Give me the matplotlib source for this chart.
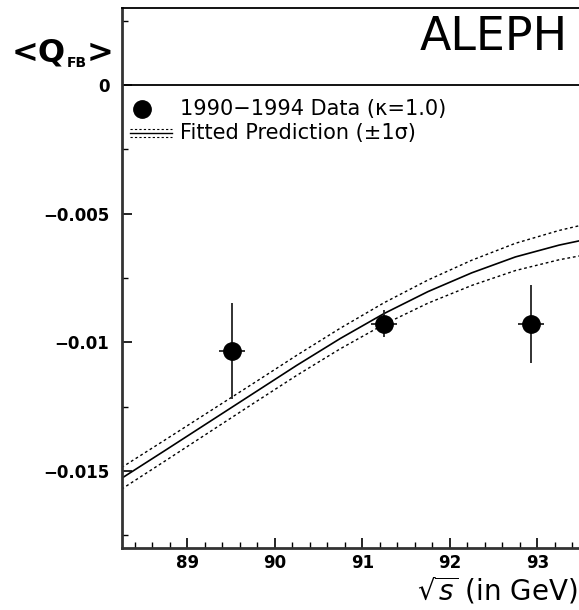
import numpy as np
import matplotlib
matplotlib.use("Agg")
import matplotlib.pyplot as plt
from matplotlib.ticker import FixedLocator, MultipleLocator, FuncFormatter

# ====== DATA ======
data_x = [89.51, 91.25, 92.93]
data_y = [-0.01035, -0.00927, -0.00930]
data_yerr = [0.00187, 0.00052, 0.00152]
data_xerr = [0.15, 0.15, 0.15]

fit_x = [88.25, 88.75, 89.25, 89.75, 90.25, 90.75, 91.25, 91.75, 92.25, 92.75, 93.25, 93.5]
fit_y = [-0.01529, -0.01420, -0.01310, -0.01200, -0.01090, -0.00985, -0.00888,
         -0.00803, -0.00730, -0.00668, -0.00622, -0.00604]
fit_sigma = [0.00042, 0.00041, 0.00040, 0.00039, 0.00039, 0.00040, 0.00042,
             0.00045, 0.00049, 0.00053, 0.00057, 0.00059]

y_major = [0, -0.005, -0.01, -0.015]
y_labels = ["0", "\u22120.005", "\u22120.01", "\u22120.015"]

# ====== FIGURE ======
plt.rcParams['mathtext.fontset'] = 'dejavusans'
fig = plt.figure(figsize=(5.79, 6.10), dpi=100)
ax = fig.add_axes([122 / 579, 1 - 548 / 610, 457 / 579, 540 / 610])
ax.set_xlim(88.255, 93.476)
ax.set_ylim(-0.018, 0.003)

# fitted prediction with +-1 sigma band
upper = np.array(fit_y) + np.array(fit_sigma)
lower = np.array(fit_y) - np.array(fit_sigma)
ax.plot(fit_x, fit_y, color='black', lw=1.2)
ax.plot(fit_x, upper, color='black', lw=1.0, ls=(0, (2, 2)))
ax.plot(fit_x, lower, color='black', lw=1.0, ls=(0, (2, 2)))

# data points
ax.errorbar(data_x, data_y, yerr=data_yerr, xerr=data_xerr, fmt='o',
            color='black', ecolor='#222222', ms=12.5, elinewidth=1.3, capsize=0, zorder=5)

# zero line
ax.axhline(0, color='black', lw=1.3)

# ====== AXES STYLE ======
ax.spines['right'].set_visible(False)
ax.spines['left'].set_linewidth(2)
ax.spines['left'].set_color('#333333')
ax.spines['bottom'].set_linewidth(2)
ax.spines['bottom'].set_color('#333333')
ax.spines['top'].set_linewidth(1.3)

ax.yaxis.set_major_locator(FixedLocator(y_major))
ax.yaxis.set_minor_locator(MultipleLocator(0.0025))
ax.yaxis.set_major_formatter(FuncFormatter(
    lambda v, p: y_labels[y_major.index(round(v, 4))] if round(v, 4) in y_major else ""))
ax.xaxis.set_major_locator(MultipleLocator(1))
ax.xaxis.set_minor_locator(MultipleLocator(0.2))

ax.tick_params(which='both', direction='in', top=False, right=False)
ax.tick_params(which='major', length=7, width=1.2, labelsize=12)
ax.tick_params(axis='x', which='major', pad=4)
ax.tick_params(axis='y', which='major', pad=9)
ax.tick_params(which='minor', length=4, width=1.0)
for lab in ax.get_xticklabels() + ax.get_yticklabels():
    lab.set_fontweight('bold')

# ====== TEXT ======
# y axis title <Q_FB>
fig.text(12 / 579, 1 - 53 / 610, '<Q', fontsize=23, fontweight='bold', va='center', ha='left')
fig.text(67 / 579, 1 - 63 / 610, 'FB', fontsize=10, fontweight='bold', va='center', ha='left')
fig.text(87 / 579, 1 - 53 / 610, '>', fontsize=23, fontweight='bold', va='center', ha='left')

fig.text(568 / 579, 1 - 37 / 610, 'ALEPH', fontsize=33, va='center', ha='right')
fig.text(578 / 579, 1 - 607 / 610, r'$\sqrt{s}$ (in GeV)', fontsize=20, va='bottom', ha='right')

# legend drawn by hand
ax.plot([0.044], [0.813], 'o', color='black', ms=12.5, transform=ax.transAxes, clip_on=False)
ax.text(0.127, 0.813, '1990\u22121994 Data (\u03ba=1.0)', fontsize=15, va='center',
        ha='left', transform=ax.transAxes)
ax.plot([0.0175, 0.109], [0.7685, 0.7685], color='black', lw=1.0,
        transform=ax.transAxes, clip_on=False)
ax.plot([0.0175, 0.109], [0.776, 0.776], color='black', lw=0.8, ls=(0, (2, 2)),
        transform=ax.transAxes, clip_on=False)
ax.plot([0.0175, 0.109], [0.761, 0.761], color='black', lw=0.8, ls=(0, (2, 2)),
        transform=ax.transAxes, clip_on=False)
ax.text(0.127, 0.7685, 'Fitted Prediction (\u00b11\u03c3)', fontsize=15, va='center',
        ha='left', transform=ax.transAxes)

fig.savefig('out.png', dpi=100)
